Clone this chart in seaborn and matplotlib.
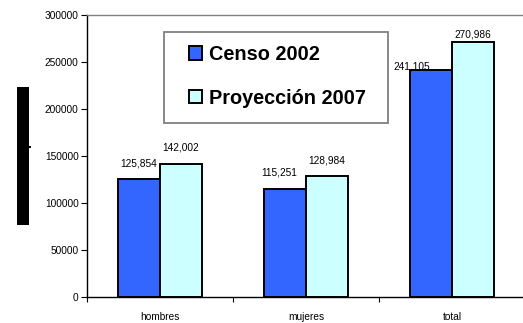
import matplotlib
matplotlib.use("Agg")
import matplotlib.pyplot as plt
from matplotlib.patches import Rectangle
import pandas as pd
import seaborn as sns

categorias = ["hombres", "mujeres", "total"]
series = ["Censo 2002", "Proyección 2007"]
censo_2002 = [125854, 115251, 241105]
proyeccion_2007 = [142002, 128984, 270986]
colores = ["#3366FF", "#CCFFFF"]
yticks = [0, 50000, 100000, 150000, 200000, 250000, 300000]

df = pd.DataFrame({
    "categoria": categorias * 2,
    "poblacion": censo_2002 + proyeccion_2007,
    "serie": [series[0]] * 3 + [series[1]] * 3,
})

sns.set_style("white")
plt.rcParams["font.family"] = ["Liberation Sans", "DejaVu Sans"]
plt.rcParams["text.color"] = "black"
plt.rcParams["xtick.color"] = "black"
plt.rcParams["ytick.color"] = "black"

W, H = 523, 323
fig = plt.figure(figsize=(W / 100, H / 100), dpi=100)
ax_l, ax_r, ax_t, ax_b = 87, 525, 15, 297
ax = fig.add_axes([ax_l / W, 1 - ax_b / H, (ax_r - ax_l) / W, (ax_b - ax_t) / H])


def px_to_axes(x, y):
    return (x - ax_l) / (ax_r - ax_l), (ax_b - y) / (ax_b - ax_t)


sns.barplot(data=df, x="categoria", y="poblacion", hue="serie",
            palette=colores, width=0.575, gap=0, edgecolor="black",
            linewidth=1.4, saturation=1, ax=ax, legend=True)

ax.set_ylim(0, 300000)
ax.set_xlim(-0.5, 2.5)
ax.set_yticks(yticks)
ax.set_yticklabels([str(v) for v in yticks], fontsize=7.3, color="black")
ax.set_xlabel("")
ax.set_ylabel("")
ax.tick_params(axis="y", length=4.5, width=0.8, color="black", pad=1.5,
               direction="out", left=True, labelcolor="black")
ax.tick_params(axis="x", which="major", length=0, pad=11, labelsize=7.3,
               labelcolor="black")
ax.set_xticks([-0.5, 0.5, 1.5, 2.5], minor=True)
ax.tick_params(axis="x", which="minor", length=3.5, width=0.8, color="black",
               direction="out", bottom=True)

for side in ["left", "bottom"]:
    ax.spines[side].set_color("black")
    ax.spines[side].set_linewidth(1.0)
ax.spines["top"].set_visible(True)
ax.spines["top"].set_color("#808080")
ax.spines["top"].set_linewidth(1.0)
ax.spines["right"].set_visible(False)

# value labels above each bar (offsets in pixels: dx, gap above bar top)
label_offsets = [
    [(0, 12), (-6, 13), (-19, 1)],
    [(0, 13), (0, 12), (0, 5)],
]
for cont, vals, offs in zip(ax.containers, [censo_2002, proyeccion_2007], label_offsets):
    for bar, v, (dx, dy) in zip(cont.patches, vals, offs):
        ax.annotate(f"{v:,}", xy=(bar.get_x() + bar.get_width() / 2, bar.get_height()),
                    xytext=(dx * 0.72, dy * 0.72), textcoords="offset points",
                    ha="center", va="baseline", fontsize=7.3, color="black")

# legend: entries without frame, framed box drawn separately
handles, labels = ax.get_legend_handles_labels()
ax.get_legend().remove()
leg = ax.legend(handles, labels, loc="upper left", bbox_to_anchor=px_to_axes(189, 45),
                prop={"weight": "bold", "size": 14.3}, handlelength=0.64,
                handleheight=0.64, handletextpad=0.35, labelspacing=1.25,
                borderpad=0, borderaxespad=0, frameon=False, labelcolor="black")
for h in leg.legend_handles:
    h.set_edgecolor("black")
    h.set_linewidth(1.4)

x0, y1 = px_to_axes(164, 123)
x1, y0 = px_to_axes(388, 32)
ax.add_patch(Rectangle((x0, y1), x1 - x0, y0 - y1, transform=ax.transAxes,
                       facecolor="white", edgecolor="#808080", linewidth=1.3,
                       zorder=4))
leg.set_zorder(5)

# vertical black bar to the left of the axis
fig.patches.append(Rectangle((17 / W, 1 - 225 / H), 12 / W, 138 / H,
                             transform=fig.transFigure, facecolor="black",
                             edgecolor="none", figure=fig))
fig.patches.append(Rectangle((29 / W, 1 - 148 / H), 1.5 / W, 2 / H,
                             transform=fig.transFigure, facecolor="black",
                             edgecolor="none", figure=fig))

fig.savefig("out.png", dpi=100)
